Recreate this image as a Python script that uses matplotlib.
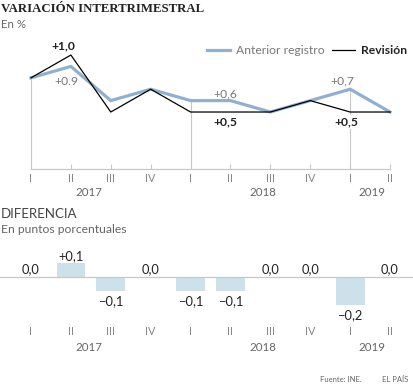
import matplotlib
matplotlib.use("Agg")
import matplotlib.pyplot as plt

plt.rcParams['font.family'] = ['Lato', 'DejaVu Sans']

# datos
trimestres = ['I', 'II', 'III', 'IV', 'I', 'II', 'III', 'IV', 'I', 'II']
anios = ['2017', '2018', '2019']
anios_pos = [1.45, 5.8, 8.55]
anterior = [0.8, 0.9, 0.6, 0.7, 0.6, 0.6, 0.5, 0.6, 0.7, 0.5]
revision = [0.8, 1.0, 0.5, 0.7, 0.5, 0.5, 0.5, 0.6, 0.5, 0.5]
diferencia = [0.0, 0.1, -0.1, 0.0, -0.1, -0.1, 0.0, 0.0, -0.2, 0.0]

AZUL = '#8fb0d0'
BARRA = '#cde1eb'
GRIS = '#666666'
GRIS_L = '#c8c8c8'
OSCURO = '#222222'

def fmt(v):
    s = f'{abs(v):.1f}'.replace('.', ',')
    if v > 0.001:
        return '+' + s
    if v < -0.001:
        return '\u2212' + s
    return s

x = list(range(len(trimestres)))
W, H = 414, 386
fig = plt.figure(figsize=(W / 100, H / 100), dpi=100)
XL = (-0.777, 9.6)

# ---- gráfico superior ----
ax = fig.add_axes([0, (H - 200) / H, 1, 155 / H])
ax.set_xlim(*XL)
ax.set_ylim(-0.272, 1.088)
ax.axis('off')

ax.plot([0, 9], [0, 0], color=GRIS_L, lw=0.9)
ax.vlines(x, 0, 0.04, color=GRIS_L, lw=0.8)
for i in (0, 4, 8):
    ax.vlines(i, 0, max(anterior[i], revision[i]), color=GRIS_L, lw=0.8, zorder=1)

ax.plot(x, anterior, color=AZUL, lw=2.3, label='Anterior registro', zorder=3,
        solid_joinstyle='miter')
ax.plot(x, revision, color='black', lw=0.9, label='Revisión', zorder=4)

for i, t in enumerate(trimestres):
    ax.text(i, -0.079, t, ha='center', va='center', fontsize=7.8, color='#888888')
for p, a in zip(anios_pos, anios):
    ax.text(p, -0.21, a, ha='center', va='center', fontsize=8.3, color=GRIS)

def etiqueta(i, v, txt, dx, dy, bold):
    ax.annotate(txt, (i, v), xytext=(dx, dy), textcoords='offset pixels',
                ha='center', va='center', fontsize=8.7,
                fontweight='bold' if bold else 'normal',
                color=OSCURO if bold else '#777777', zorder=6,
                bbox=dict(boxstyle='square,pad=0.1', fc='white', ec='none')
                if bold else None)

etiqueta(1, revision[1], '+1,0', -8, 9, True)
etiqueta(1, anterior[1], '+0.9', -5, -15, False)
etiqueta(5, anterior[5], '+0,6', -5, 7, False)
etiqueta(5, revision[5], '+0,5', -5, -10, True)
etiqueta(8, anterior[8], '+0,7', -8, 8, False)
etiqueta(8, revision[8], '+0,5', -4, -10, True)

leg = ax.legend(loc='upper right', bbox_to_anchor=(0.995, 1.03), ncol=2,
                frameon=False, fontsize=8.7, handlelength=1.9,
                handletextpad=0.5, columnspacing=0.6, borderaxespad=0)
leg.get_texts()[0].set_color('#777777')
leg.get_texts()[1].set_color(OSCURO)
leg.get_texts()[1].set_fontweight('bold')

# ---- gráfico inferior ----
bx = fig.add_axes([0, (H - 355) / H, 1, 105 / H])
bx.set_xlim(*XL)
bx.set_ylim(-0.557, 0.193)
bx.axis('off')
bx.bar(x, diferencia, width=0.72, color=BARRA, zorder=2)
bx.axhline(0, color=GRIS_L, lw=0.9, zorder=3)
for i, v in enumerate(diferencia):
    if v > 0:
        bx.text(i, v + 0.008, fmt(v), ha='center', va='bottom', fontsize=9.3, color=OSCURO)
    elif v < 0:
        bx.text(i, v - 0.03, fmt(v), ha='center', va='top', fontsize=9.3, color=OSCURO)
    else:
        bx.text(i, 0.012, fmt(v), ha='center', va='bottom', fontsize=9.3, color=OSCURO)
for i, t in enumerate(trimestres):
    bx.text(i, -0.386, t, ha='center', va='center', fontsize=7.8, color='#888888')
for p, a in zip(anios_pos, anios):
    bx.text(p, -0.5, a, ha='center', va='center', fontsize=8.3, color=GRIS)

# ---- textos ----
fig.text(1 / W, 1 - 3 / H, 'VARIACIÓN INTERTRIMESTRAL', ha='left', va='top',
         fontsize=9.2, fontweight='bold', family='Liberation Serif', color=OSCURO)
fig.text(1 / W, 1 - 19 / H, 'En %', ha='left', va='top', fontsize=8.3, color=GRIS)
fig.text(1 / W, 1 - 208 / H, 'DIFERENCIA', ha='left', va='top', fontsize=9.5, color='#444444')
fig.text(1 / W, 1 - 224 / H, 'En puntos porcentuales', ha='left', va='top',
         fontsize=8.7, color=GRIS)
fig.text(362 / W, 1 - 379 / H, 'Fuente: INE.', ha='right', va='center', fontsize=5.5, color=GRIS)
fig.text(408 / W, 1 - 379 / H, 'EL PAÍS', ha='right', va='center', fontsize=5.5, color=GRIS)

fig.savefig('out.png', dpi=100)
